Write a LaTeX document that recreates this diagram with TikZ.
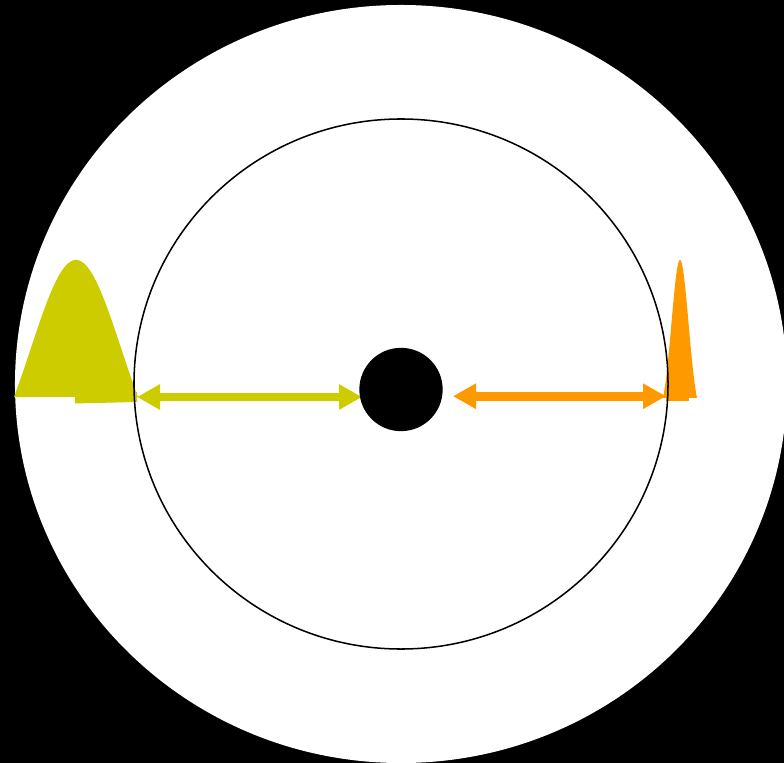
\documentclass[tikz,border=0pt]{standalone}
\usepackage{tikz}
\usetikzlibrary{arrows.meta, positioning, calc}

\definecolor{bellyellow}{RGB}{204,204,0}
\definecolor{bellorange}{RGB}{255,153,0}

\begin{document}
\begin{tikzpicture}[
  x=0.03cm, y=-0.03cm,
  %% styles
  ring/.style={draw=black, line width=1.3pt},
  core/.style={circle, fill=black, inner sep=0pt, minimum size=2.5cm},
  ybell/.style={fill=bellyellow},
  obell/.style={fill=bellorange},
  yarr/.style={{Triangle[length=0.69cm, width=0.72cm]}-{Triangle[length=0.69cm, width=0.72cm]},
    line width=7pt, bellyellow},
  oarr/.style={{Triangle[length=0.69cm, width=0.72cm]}-{Triangle[length=0.69cm, width=0.72cm]},
    line width=7.6pt, bellorange},
  ytail/.style={line width=8.5pt, bellyellow},
  otail/.style={line width=7.6pt, bellorange}
]

%% ── background and outer disc ──────────────────────────────────────────
\fill[black] (0,0) rectangle (784,763);
\useasboundingbox (0,0) rectangle (784,763);
\fill[white] (401,384) ellipse [x radius=11.58cm, y radius=11.37cm];

%% ── anchor points of the two arrows ────────────────────────────────────
\coordinate (ytailend) at (75,398.5);
\coordinate (yleft)    at (137,397);
\coordinate (yright)   at (362,397);
\coordinate (oleft)    at (453,396.2);
\coordinate (oright)   at (666,396.2);
\coordinate (otailend) at (689,396.2);

%% ── yellow (wide) bell on the left ─────────────────────────────────────
\draw[ytail] (ytailend) -- (yleft);
\fill[ybell] plot[domain=-62:62, samples=90, smooth]
  ({76+\x}, {397-137*(exp(-((\x/45)^2)/2)-0.3871)/(1-0.3871)}) -- cycle;

%% ── orange (narrow) bell on the right ──────────────────────────────────
\draw[otail] (oright) -- (otailend);
\fill[obell] plot[domain=-17:17, samples=70, smooth]
  ({680+\x}, {398-138*(exp(-((\x/8.5)^2)/2)-0.1353)/(1-0.1353)}) -- cycle;

%% ── double arrows ──────────────────────────────────────────────────────
\draw[yarr] (yleft) -- (yright);
\draw[oarr] (oleft) -- (oright);

%% ── inner circle and central dot ───────────────────────────────────────
\draw[ring] (401,384) ellipse [x radius=8.01cm, y radius=7.95cm];
\node[core] (dot) at (401,389.5) {};

\end{tikzpicture}
\end{document}
